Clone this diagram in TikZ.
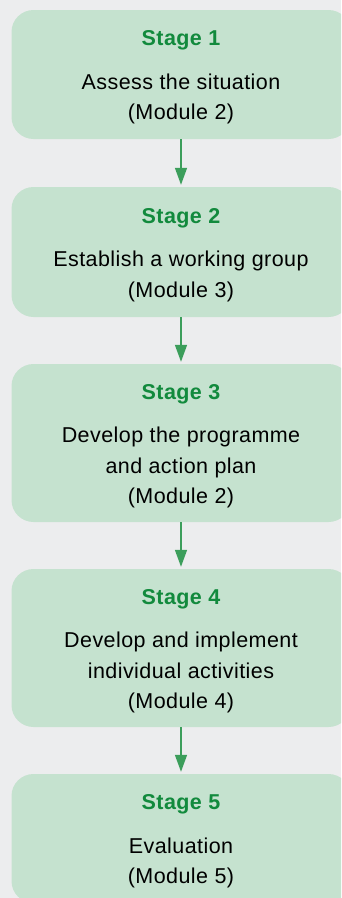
\documentclass[tikz,border=0pt]{standalone}
\usepackage{fontspec}
\setmainfont[LetterSpace=2]{Liberation Sans}
\usetikzlibrary{arrows.meta}
\definecolor{bggray}{HTML}{ECEDEE}
\definecolor{boxgreen}{HTML}{C5E2CF}
\definecolor{titlegreen}{HTML}{128A3D}
\definecolor{arrowgreen}{HTML}{3C9E5B}
\tikzset{
  stagebox/.style={fill=boxgreen, rounded corners=22pt, minimum width=339pt,
    inner sep=0pt, align=center, text=black,
    font=\fontsize{21.5}{30.7}\selectfont},
  flow/.style={draw=arrowgreen, line width=1.4pt,
    -{Triangle[length=17pt,width=12pt]}, shorten >=2pt}
}
\newcommand{\stagetitle}[1]{\rule{0pt}{21.2pt}{\fontsize{21.5}{30.7}\selectfont\bfseries\color{titlegreen}#1}\\[12.6pt]}
\begin{document}
\begin{tikzpicture}[x=1pt,y=1pt]
\useasboundingbox (0,0) rectangle (341,-898);
\clip (0,0) rectangle (341,-898);
\fill[bggray] (0,0) rectangle (341,-898);
\node[stagebox, minimum height=129pt] (s1) at (181,-74.5)
  {\stagetitle{Stage 1}Assess the situation\\(Module 2)};
\node[stagebox, minimum height=130pt] (s2) at (181,-252)
  {\stagetitle{Stage 2}Establish a working group\\(Module 3)};
\node[stagebox, minimum height=158pt] (s3) at (181,-443)
  {\stagetitle{Stage 3}Develop the programme\\and action plan\\(Module 2)};
\node[stagebox, minimum height=158pt] (s4) at (181,-648)
  {\stagetitle{Stage 4}Develop and implement\\individual activities\\(Module 4)};
\node[stagebox, minimum height=129pt] (s5) at (181,-838.5)
  {\stagetitle{Stage 5}Evaluation\\(Module 5)};
\draw[flow] (s1) -- (s2);
\draw[flow] (s2) -- (s3);
\draw[flow] (s3) -- (s4);
\draw[flow] (s4) -- (s5);
\end{tikzpicture}
\end{document}
